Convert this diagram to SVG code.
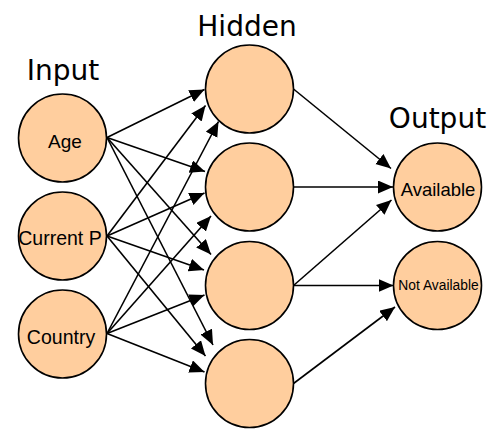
<svg xmlns="http://www.w3.org/2000/svg" width="500" height="446" viewBox="0 0 500 446">
<style>
.node{fill:#FFCE9E;stroke:#000;stroke-width:1.6}
.title{font-family:"DejaVu Sans",sans-serif;font-size:28px;fill:#000;text-anchor:middle}
.lbl{font-family:"Liberation Sans",Arial,sans-serif;fill:#000;text-anchor:middle}
.edge{stroke:#000;stroke-width:1.6;fill:none;marker-end:url(#ah)}
</style>
<defs>
<marker id="ah" markerUnits="userSpaceOnUse" markerWidth="16" markerHeight="14" refX="15" refY="6.5" orient="auto">
<path d="M0,0 L15,6.5 L0,13 z" fill="#000"/>
</marker>
</defs>
<rect width="500" height="446" fill="#fff"/>
<text class="title" x="63" y="80">Input</text>
<text class="title" x="247" y="36">Hidden</text>
<text class="title" x="437.5" y="128">Output</text>
<g id="connectors">
<line class="edge" x1="107" y1="137.5" x2="204.5" y2="89.5"/>
<line class="edge" x1="107" y1="137.5" x2="205" y2="171.5"/>
<line class="edge" x1="107" y1="137.5" x2="211" y2="254.5"/>
<line class="edge" x1="107" y1="137.5" x2="213" y2="345"/>
<line class="edge" x1="107" y1="236" x2="205.5" y2="105.5"/>
<line class="edge" x1="107" y1="236" x2="204.5" y2="193"/>
<line class="edge" x1="107" y1="236" x2="204" y2="270"/>
<line class="edge" x1="107" y1="236" x2="205.5" y2="356"/>
<line class="edge" x1="107" y1="333.5" x2="218.5" y2="121.5"/>
<line class="edge" x1="107" y1="333.5" x2="211" y2="216"/>
<line class="edge" x1="107" y1="333.5" x2="204.5" y2="295"/>
<line class="edge" x1="107" y1="333.5" x2="204.5" y2="372"/>
<line class="edge" x1="293.5" y1="89" x2="391" y2="168.5"/>
<line class="edge" x1="293.5" y1="187" x2="393" y2="187"/>
<line class="edge" x1="293.5" y1="285.5" x2="391.5" y2="200"/>
<line class="edge" x1="293.5" y1="285.5" x2="393.5" y2="285.5"/>
<line class="edge" x1="293.5" y1="383.5" x2="395" y2="307"/>
</g>
<g id="in-age"><circle class="node" cx="62.5" cy="138" r="44"/><text class="lbl" x="65" y="148" font-size="19">Age</text></g>
<g id="in-current"><circle class="node" cx="62.5" cy="236" r="44"/><text class="lbl" x="60" y="244.5" font-size="19.5">Current P</text></g>
<g id="in-country"><circle class="node" cx="62.5" cy="334" r="44"/><text class="lbl" x="61" y="343.5" font-size="19.5">Country</text></g>
<g id="h1"><circle class="node" cx="249.5" cy="89" r="44"/></g>
<g id="h2"><circle class="node" cx="249.5" cy="187" r="44"/></g>
<g id="h3"><circle class="node" cx="249.5" cy="285.5" r="44"/></g>
<g id="h4"><circle class="node" cx="249.5" cy="383.5" r="44"/></g>
<g id="out-available"><circle class="node" cx="437.5" cy="187" r="44"/><text class="lbl" x="438" y="196" font-size="18.5">Available</text></g>
<g id="out-not"><circle class="node" cx="437.5" cy="285.5" r="44"/><text class="lbl" x="438.5" y="290" font-size="13.8">Not Available</text></g>
</svg>
